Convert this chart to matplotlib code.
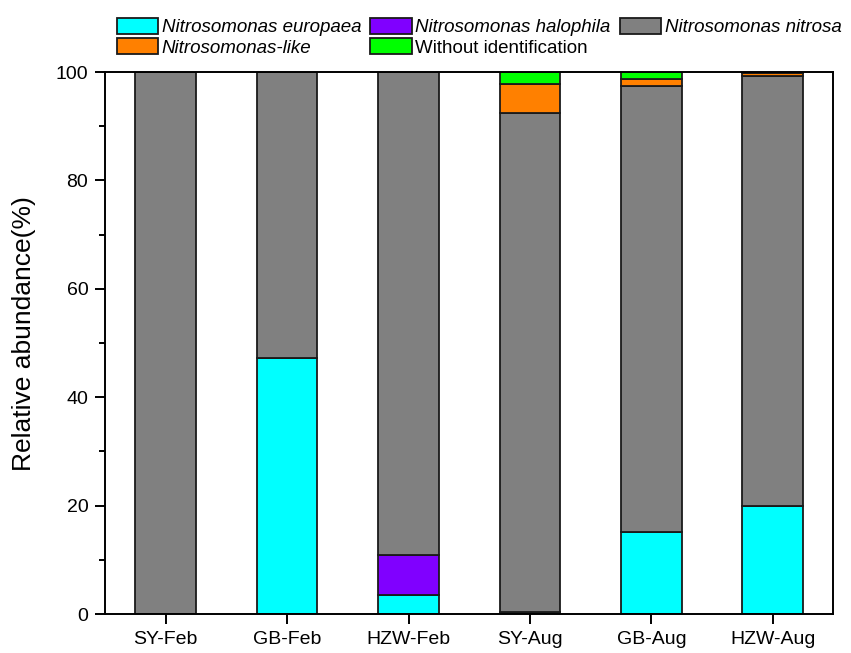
import matplotlib
matplotlib.use("Agg")
import matplotlib.pyplot as plt
import numpy as np
from matplotlib.ticker import MultipleLocator

plt.rcParams['font.family'] = ['Liberation Sans', 'DejaVu Sans']

categories = ["SY-Feb", "GB-Feb", "HZW-Feb", "SY-Aug", "GB-Aug", "HZW-Aug"]
europaea = [0, 47.2, 3.6, 0.3, 15.2, 19.9]
halophila = [0, 0, 7.3, 0, 0, 0]
nitrosa = [100, 52.8, 89.1, 92.1, 82.3, 79.4]
like = [0, 0, 0, 5.3, 1.3, 0.5]
without = [0, 0, 0, 2.3, 1.2, 0.2]

series = [
    ("Nitrosomonas europaea", europaea, "#00FFFF"),
    ("Nitrosomonas halophila", halophila, "#8000FF"),
    ("Nitrosomonas nitrosa", nitrosa, "#808080"),
    ("Nitrosomonas-like", like, "#FF8000"),
    ("Without identification", without, "#00FF00"),
]

fig = plt.figure(figsize=(8.51, 6.53), dpi=100)
ax = fig.add_axes([0.1234, 0.0597, 0.856, 0.830])

x = np.arange(len(categories))
bottom = np.zeros(len(categories))
handles = {}
for name, vals, color in series:
    v = np.array(vals, dtype=float)
    b = ax.bar(x, v, 0.5, bottom=bottom, color=color, edgecolor="#1a1a1a", linewidth=1.3, label=name)
    handles[name] = b
    bottom += v

ax.set_xlim(-0.5, 5.5)
ax.set_ylim(0, 100)
ax.set_xticks(x)
ax.set_xticklabels(categories)
ax.yaxis.set_major_locator(MultipleLocator(20))
ax.yaxis.set_minor_locator(MultipleLocator(10))
ax.tick_params(axis='both', which='major', direction='out', length=7, width=1.4, labelsize=14, pad=5)
ax.tick_params(axis='y', which='minor', direction='out', length=4, width=1.4)
ax.tick_params(axis='x', which='minor', bottom=False)
for s in ax.spines.values():
    s.set_linewidth(1.4)
ax.set_ylabel("Relative abundance(%)", fontsize=19)
ax.yaxis.set_label_coords(-0.095, 0.518)

order = ["Nitrosomonas europaea", "Nitrosomonas-like", "Nitrosomonas halophila",
         "Without identification", "Nitrosomonas nitrosa"]
leg = fig.legend([handles[n] for n in order], order, ncol=3, loc="upper left",
                 bbox_to_anchor=(0.126, 0.987), frameon=False, fontsize=13.5,
                 handlelength=2.2, handleheight=0.95, handletextpad=0.2,
                 columnspacing=0.5, labelspacing=0.1, borderaxespad=0.2,
                 borderpad=0.3)
for t in leg.get_texts():
    if t.get_text() != "Without identification":
        t.set_style("italic")

fig.savefig("out.png", dpi=100)
